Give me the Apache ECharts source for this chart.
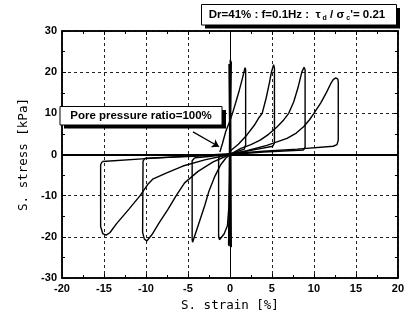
<!DOCTYPE html>
<html>
<head>
<meta charset="utf-8">
<script src="https://cdn.jsdelivr.net/npm/echarts@6/dist/echarts.min.js"></script>
<style>
  html, body { margin: 0; padding: 0; background: #fff; }
  #chart { width: 407px; height: 320px; }
</style>
</head>
<body>
<div id="chart"></div>
<script>
// axis ranges / ticks
const strainTicks = [-20, -15, -10, -5, 0, 5, 10, 15, 20]
const stressTicks = [-30, -20, -10, 0, 10, 20, 30]

// [strain %, stress kPa]
// first cycles, strain stays around zero
const initialCycles = [[0, 0], [0.1, 22.8], [-0.1, -22.3], [0.15, 22.5], [-0.15, -22], [0.05, 23], [0.15, -22.5], [-0.1, 22], [0.1, -21.8], [0, 0]]

const loop1Pos = [[-1.2, 0.6], [-0.9, 2.6], [-0.5, 5.6], [0, 8.2], [0.3, 10], [0.7, 12.7], [1.1, 15.5], [1.45, 18.2], [1.7, 20.3], [1.8, 21.1], [1.87, 20.6], [1.87, 2.3], [1.7, 1.3], [0.3, 0.3], [-1.3, -0.4]]
const loop1Neg = [[-1.3, -0.4], [-1.35, -1.5], [-1.35, -19.8], [-1.25, -20.7], [-1.1, -20.9], [-0.7, -19.3], [-0.3, -17.3], [-0.1, -12], [0, -4], [0, 0]]

const loop2Pos = [[0, 0], [0, 0.8], [1, 2.5], [2, 4.7], [2.9, 7.1], [3.4, 8.8], [3.84, 10], [4.3, 13.6], [4.7, 17.4], [4.94, 20], [5.2, 21.8], [5.3, 21.0], [5.3, 2.8], [5.1, 2.0], [2.5, 1.0], [0, 0.1], [-2.5, -0.5], [-4.2, -0.8]]
const loop2Neg = [[-4.2, -0.8], [-4.5, -1.5], [-4.5, -20.6], [-4.45, -21.3], [-4.3, -21.0], [-3.6, -16.1], [-3.0, -12.4], [-2.5, -8.9], [-1.8, -5.3], [-1.1, -2.5], [-0.5, -0.9], [0, 0]]

const loop3Pos = [[0, 0], [1.3, 1.5], [2.5, 2.4], [3.6, 3.5], [4.6, 4.9], [5.6, 6.7], [6.4, 8.4], [7.0, 10], [7.6, 12.8], [8.1, 16.2], [8.56, 20], [8.83, 21.2], [8.95, 20.6], [8.95, 1.8], [8.76, 1.1], [4, 0.6], [0, 0], [-5, -0.5], [-10.1, -0.9]]
const loop3Neg = [[-10.1, -0.9], [-10.35, -1.6], [-10.4, -18.9], [-10.2, -20.5], [-9.9, -21.0], [-9.3, -19.5], [-8.4, -16.5], [-7.4, -13.4], [-6.4, -10], [-5.4, -6.9], [-3.8, -4.1], [-2, -1.8], [0, 0]]

const loop4Pos = [[0, 0], [2, 0.9], [4.4, 2.2], [6.8, 3.9], [7.9, 5.2], [8.8, 6.8], [9.5, 8.5], [10.0, 10.0], [10.8, 12.5], [11.5, 15.1], [12.0, 17.2], [12.3, 18.2], [12.6, 18.6], [12.85, 18.3], [12.9, 17.5], [12.9, 3.5], [12.75, 2.4], [12.3, 2.0], [8, 1.3], [4, 0.8], [0, 0.2], [-5, -0.4], [-10, -1.0], [-15.2, -1.7]]
const loop4Neg = [[-15.2, -1.7], [-15.4, -2.5], [-15.4, -17.5], [-15.15, -19.2], [-14.75, -19.6], [-14.3, -19.0], [-13.5, -16.8], [-12, -13.2], [-10.7, -10], [-9.8, -7.3], [-9.2, -6.0], [-7.6, -4.5], [-5.6, -2.8], [-3, -1.3], [0, 0]]

const segments = [initialCycles, loop1Pos, loop1Neg, loop2Pos, loop2Neg, loop3Pos, loop3Neg, loop4Pos, loop4Neg]

// annotation arrow, data coords
const arrowFrom = [-4.4, 5.5]
const arrowTo = [-1.3, 1.9]

const chart = echarts.init(document.getElementById('chart'))

const tickFont = { color: '#000', fontSize: 11, fontWeight: 'bold', fontFamily: 'Liberation Sans' }
const nameFont = { color: '#000', fontSize: 12.5, fontFamily: 'DejaVu Sans Mono' }
const gridLine = { show: true, lineStyle: { color: '#222', type: [3, 3], width: 1 } }

function axisBase(min, max, interval, showLabel) {
  return {
    type: 'value',
    min: min,
    max: max,
    interval: interval,
    axisLine: { show: true, onZero: false, lineStyle: { color: '#000', width: 1.5 } },
    axisTick: { show: true, inside: true, length: 4, lineStyle: { color: '#000' } },
    minorTick: { show: true, splitNumber: 2, length: 3, lineStyle: { color: '#000' } },
    axisLabel: Object.assign({ show: showLabel, margin: 5 }, tickFont),
    splitLine: { show: false }
  }
}

const xMain = axisBase(strainTicks[0], strainTicks[strainTicks.length - 1], 5, true)
xMain.position = 'bottom'
xMain.splitLine = gridLine
xMain.name = 'S. strain [%]'
xMain.nameLocation = 'middle'
xMain.nameGap = 16
xMain.nameTextStyle = nameFont
const xTop = axisBase(strainTicks[0], strainTicks[strainTicks.length - 1], 5, false)
xTop.position = 'top'

const yMain = axisBase(stressTicks[0], stressTicks[stressTicks.length - 1], 10, true)
yMain.position = 'left'
yMain.splitLine = gridLine
yMain.name = 'S. stress [kPa]'
yMain.nameLocation = 'middle'
yMain.nameGap = 32
yMain.nameTextStyle = nameFont
const yRight = axisBase(stressTicks[0], stressTicks[stressTicks.length - 1], 10, false)
yRight.position = 'right'

const series = segments.map((seg, i) => ({
  type: 'line',
  data: seg,
  showSymbol: false,
  symbol: 'none',
  lineStyle: { color: '#000', width: i === 0 ? 1.6 : 1.4 },
  animation: false,
  z: 3
}))

// zero axes + arrow
series.push({
  type: 'line',
  data: [],
  animation: false,
  markLine: {
    silent: true,
    animation: false,
    symbol: 'none',
    label: { show: false },
    lineStyle: { color: '#000', type: 'solid' },
    data: [
      { xAxis: 0, lineStyle: { width: 1 } },
      { yAxis: 0, lineStyle: { width: 2 } },
      [
        { coord: arrowFrom, symbol: 'none' },
        { coord: arrowTo, symbol: 'arrow', symbolSize: 7, lineStyle: { width: 1.2 } }
      ]
    ]
  }
})

chart.setOption({
  animation: false,
  grid: { left: 62, right: 5, top: 31, bottom: 42, show: true, borderColor: '#000', borderWidth: 1.5 },
  xAxis: [xMain, xTop],
  yAxis: [yMain, yRight],
  series: series,
  graphic: [
    // run conditions box
    { type: 'rect', shape: { x: 205, y: 8, width: 195, height: 20.5 }, style: { fill: '#000' }, z: 10 },
    { type: 'rect', shape: { x: 201.5, y: 4.5, width: 195, height: 20.5 }, style: { fill: '#fff', stroke: '#000', lineWidth: 1 }, z: 11 },
    {
      type: 'text', x: 297, y: 15, z: 12,
      style: {
        text: '{n|Dr=41% : f=0.1Hz :  τ}{s| d}{n| / σ}{s| c}{n|\'= 0.21}',
        align: 'center', verticalAlign: 'middle',
        rich: {
          n: { fontSize: 11.5, fontWeight: 'bold', fontFamily: 'Liberation Sans', fill: '#000', lineHeight: 14 },
          s: { fontSize: 7, fontWeight: 'bold', fontFamily: 'Liberation Sans', fill: '#000', lineHeight: 7, verticalAlign: 'bottom' }
        }
      }
    },
    // liquefaction note
    { type: 'rect', shape: { x: 64, y: 110, width: 162, height: 18.5 }, style: { fill: '#000' }, z: 10 },
    { type: 'rect', shape: { x: 60, y: 106.5, width: 162, height: 18.5 }, style: { fill: '#fff', stroke: '#000', lineWidth: 1 }, z: 11 },
    {
      type: 'text', x: 141, y: 116, z: 12,
      style: {
        text: 'Pore pressure ratio=100%',
        align: 'center', verticalAlign: 'middle',
        font: 'bold 11.5px "Liberation Sans"', fill: '#000'
      }
    }
  ]
})
</script>
</body>
</html>
